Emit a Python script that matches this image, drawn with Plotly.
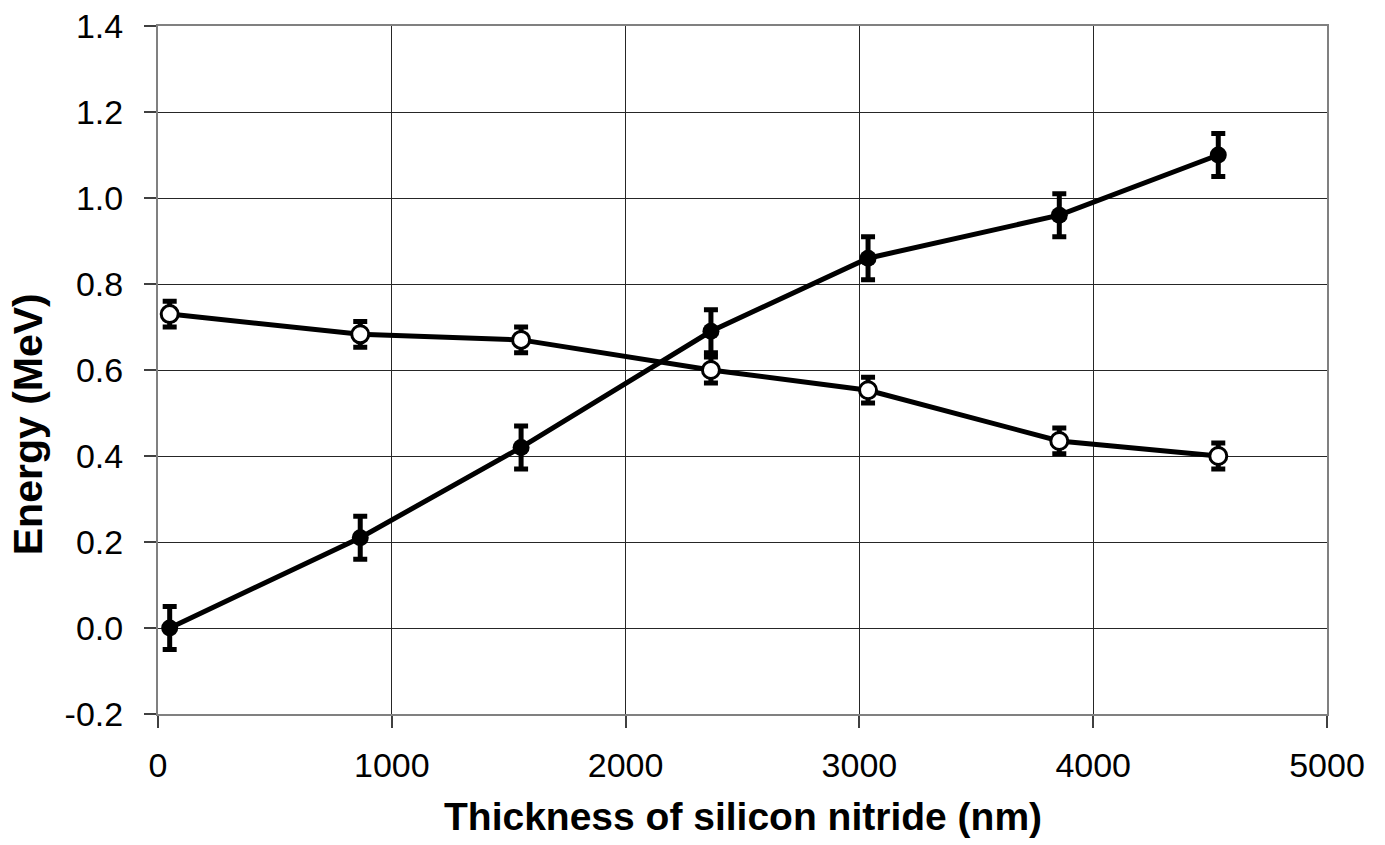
import plotly.graph_objects as go

thickness = [50, 865, 1553, 2365, 3037, 3855, 4535]
energy_filled = [0.0, 0.21, 0.42, 0.69, 0.86, 0.96, 1.10]
err_filled = [0.05, 0.05, 0.05, 0.05, 0.05, 0.05, 0.05]
energy_open = [0.73, 0.683, 0.67, 0.60, 0.553, 0.435, 0.40]
err_open = [0.03, 0.03, 0.03, 0.03, 0.03, 0.03, 0.03]

x_ticks = [0, 1000, 2000, 3000, 4000, 5000]
x_ticktext = ["0", "1000", "2000", "3000", "4000", "5000"]
y_ticks = [-0.2, 0.0, 0.2, 0.4, 0.6, 0.8, 1.0, 1.2, 1.4]
y_ticktext = ["-0.2", "0.0", "0.2", "0.4", "0.6", "0.8", "1.0", "1.2", "1.4"]

FONT = "Liberation Sans, Arial, sans-serif"

fig = go.Figure()
fig.add_trace(go.Scatter(
    x=thickness, y=energy_open, mode="lines+markers",
    line=dict(color="black", width=5),
    marker=dict(symbol="circle", size=17, color="white", line=dict(color="black", width=3)),
    error_y=dict(type="data", array=err_open, visible=True, color="black", thickness=5, width=7),
    showlegend=False,
))
fig.add_trace(go.Scatter(
    x=thickness, y=energy_filled, mode="lines+markers",
    line=dict(color="black", width=5),
    marker=dict(symbol="circle", size=17, color="black"),
    error_y=dict(type="data", array=err_filled, visible=True, color="black", thickness=5, width=7),
    showlegend=False,
))

fig.update_layout(
    width=1385, height=845,
    margin=dict(l=158, r=58, t=26, b=131, autoexpand=False),
    paper_bgcolor="white", plot_bgcolor="white",
    font=dict(family=FONT, color="black"),
    xaxis=dict(
        range=[0, 5000], tickvals=x_ticks, ticktext=x_ticktext,
        showgrid=True, gridcolor="#262626", gridwidth=1,
        showline=True, linecolor="#808080", linewidth=2, mirror=True,
        ticks="outside", ticklen=12, tickwidth=1.5, tickcolor="#404040",
        tickfont=dict(size=34, family=FONT, color="black"),
        ticklabelstandoff=8, zeroline=False, automargin=False,
    ),
    yaxis=dict(
        range=[-0.2, 1.4], tickvals=y_ticks, ticktext=y_ticktext,
        showgrid=True, gridcolor="#262626", gridwidth=1,
        showline=True, linecolor="#808080", linewidth=2, mirror=True,
        ticks="outside", ticklen=12, tickwidth=1.5, tickcolor="#404040",
        tickfont=dict(size=34, family=FONT, color="black"),
        ticklabelstandoff=14, zeroline=False, automargin=False,
    ),
    annotations=[
        dict(text="<b>Thickness of silicon nitride (nm)</b>", xref="paper", yref="paper",
             x=0.5, y=-0.1497, xanchor="center", yanchor="middle", showarrow=False,
             font=dict(size=39, family=FONT, color="black")),
        dict(text="<b>Energy (MeV)</b>", xref="paper", yref="paper",
             x=-0.111, y=0.4215, xanchor="center", yanchor="middle", showarrow=False,
             textangle=-90, font=dict(size=41, family=FONT, color="black")),
    ],
)

fig.write_html("out.html")
